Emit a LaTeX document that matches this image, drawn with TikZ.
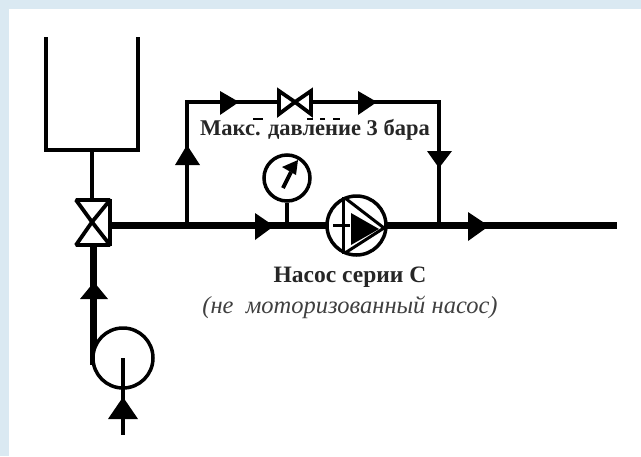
\documentclass[tikz,border=0pt]{standalone}
\usepackage{fontspec}
\setmainfont{Liberation Serif}
\definecolor{frameblue}{HTML}{DAE9F2}
\tikzstyle{pipe}=[line width=3.8pt]
\tikzstyle{mainpipe}=[line width=7pt]
\tikzstyle{sym}=[line width=3.8pt, line join=miter]
\tikzstyle{tip}=[fill=black, draw=none]
\tikzstyle{lbl}=[inner sep=0pt, text=black!85, font=\fontsize{22.5}{26}\selectfont\bfseries]
\tikzstyle{ring}=[circle, draw, line width=3.5pt, fill=white, inner sep=0pt]
\begin{document}
\begin{tikzpicture}[x=1pt,y=-1pt]
	\useasboundingbox (0,0) rectangle (641,456);
	%The background
	\fill[frameblue] (0,0) rectangle (641,456);
	\fill[white] (9,9) rectangle (641,456);

	%The tank
	\coordinate (t1) at (46,37);
	\coordinate (t2) at (46,150);
	\coordinate (t3) at (138,150);
	\coordinate (t4) at (138,37);
	\draw[sym] (t1) -- (t2) -- (t3) -- (t4);

	%The three way valve
	\coordinate (vc) at (92,222);
	\coordinate (tb) at (92,150);
	\coordinate (vt) at (92,200);
	\draw[pipe] (tb) -- (vt);
	\draw[sym, line join=bevel] (vc) -- (76,200) -- (110,200) -- cycle;
	\draw[sym, line join=bevel] (vc) -- (76,245) -- (110,245) -- cycle;
	\draw[sym] (110,199) -- (110,246);

	%The main line
	\coordinate (m1) at (112,225);
	\coordinate (m2) at (617,225);
	\draw[mainpipe] (m1) -- (m2);

	%The suction line
	\coordinate (s1) at (93,246);
	\coordinate (s2) at (93,365);
	\draw[mainpipe] (s1) -- (s2);
	\node[ring, minimum size=60pt] (tankpump) at (123,358) {};
	\coordinate (s3) at (123,358);
	\coordinate (s4) at (123,435);
	\draw[pipe] (s3) -- (s4);
	\fill[tip] (123,397) -- (138,419) -- (108,419) -- cycle;
	\fill[tip] (94,282) -- (108,299) -- (80,299) -- cycle;

	%The by-pass
	\coordinate (b1) at (187,225);
	\coordinate (b2) at (187,102);
	\coordinate (b3) at (439,102);
	\coordinate (b4) at (439,225);
	\draw[pipe] (b1) -- (b2) -- (b3) -- (b4);
	\fill[tip] (187,145) -- (200,165) -- (175,165) -- cycle;
	\fill[tip] (220,91) -- (239,102) -- (220,115) -- cycle;
	\fill[tip] (358,91) -- (377,102) -- (358,115) -- cycle;
	\fill[tip] (427,151) -- (452,151) -- (439,168) -- cycle;
	\draw[sym, fill=white] (279,91) -- (295,102) -- (279,114) -- cycle;
	\draw[sym, fill=white] (311,91) -- (295,102) -- (311,114) -- cycle;

	%The gauge
	\node[ring, minimum size=46pt] (gauge) at (287,178) {};
	\draw[pipe] (gauge.south) -- (287,225);
	\draw[line width=4pt] (283,188) -- (291,172);
	\fill[tip] (298,160) -- (296,175) -- (282,167) -- cycle;

	%The pump
	\node[ring, minimum size=59pt] (pump) at (356.5,225.5) {};
	\draw[line width=3pt] (343,197) -- (343,254);
	\draw[line width=3pt] (333,225) -- (350,225);
	\draw[line width=3pt, line join=round] (345,198) -- (384,228) -- (345,253);
	\fill[tip] (351,213) -- (379,229) -- (351,245) -- cycle;

	%The arrows on the main line
	\fill[tip] (255,213) -- (274,226) -- (255,240) -- cycle;
	\fill[tip] (468,212) -- (489,226) -- (468,241) -- cycle;

	%The rests of the covered text
	\foreach \xa/\xb in {253/263, 307/313, 320/325, 333/340}
		\fill (\xa,118) rectangle (\xb,120);

	%The labels
	\node[lbl] (maxp) at (315,130) {Макс. давление 3 бара};
	\node[lbl, font=\fontsize{23.5}{27}\selectfont\bfseries] (name) at (350,277) {Насос серии С};
	\node[inner sep=0pt, text=black!75, font=\fontsize{24.5}{28}\selectfont\itshape] (note) at (350,307) {(не\ \ моторизованный насос)};
\end{tikzpicture}
\end{document}
